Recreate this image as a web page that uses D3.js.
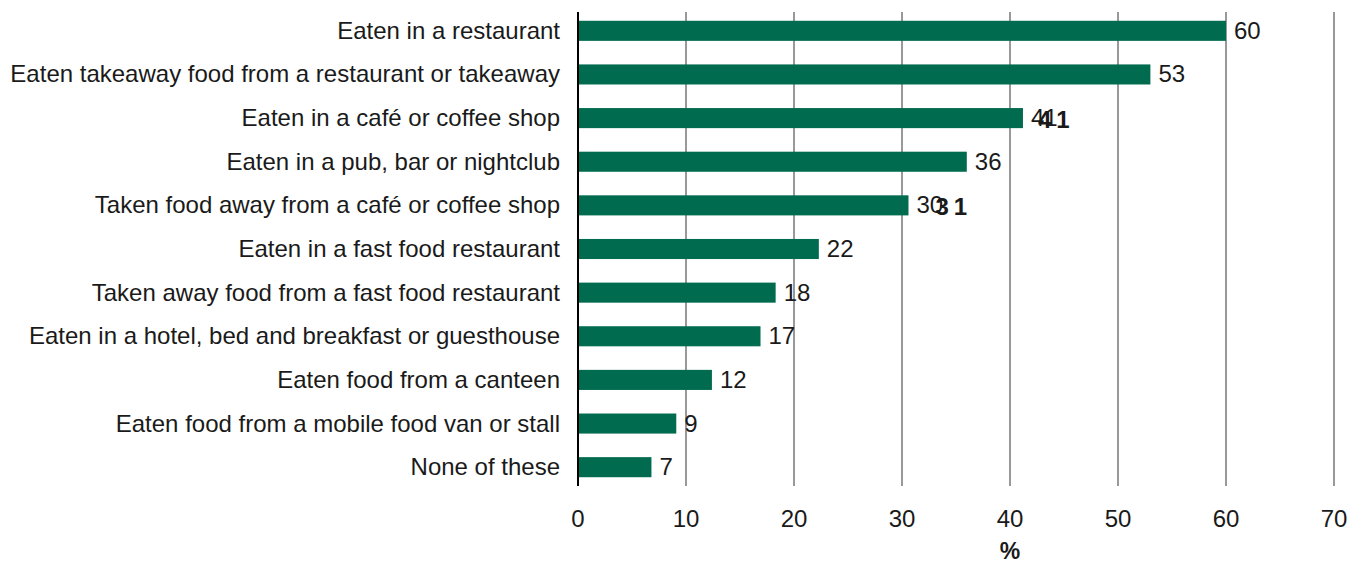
<!DOCTYPE html>
<html>
<head>
<meta charset="utf-8">
<script src="https://cdn.jsdelivr.net/npm/d3@7"></script>
<style>
  body { margin: 0; background: #fff; }
  text { font-family: "Liberation Sans", Arial, sans-serif; fill: #1a1a1a; }
</style>
</head>
<body>
<div class="canvas"></div>
<script>

var categories = [
  "Eaten in a restaurant",
  "Eaten takeaway food from a restaurant or takeaway",
  "Eaten in a café or coffee shop",
  "Eaten in a pub, bar or nightclub",
  "Taken food away from a café or coffee shop",
  "Eaten in a fast food restaurant",
  "Taken away food from a fast food restaurant",
  "Eaten in a hotel, bed and breakfast or guesthouse",
  "Eaten food from a canteen",
  "Eaten food from a mobile food van or stall",
  "None of these"
];

var values = [60, 53, 41.2, 36, 30.6, 22.3, 18.3, 16.9, 12.4, 9.1, 6.8];
var valueLabels = ["60", "53", "41", "36", "30", "22", "18", "17", "12", "9", "7"];

// stray duplicate labels sitting over two of the bars
var extraRows = ["Eaten in a café or coffee shop", "Taken food away from a café or coffee shop"];
var extraValues = [41.2, 30.6];
var extraTexts = ["41", "31"];

var ticks = [0, 10, 20, 30, 40, 50, 60, 70];

var svg = d3.select(".canvas")
            .append("svg")
            .attr("width", 1367)
            .attr("height", 565);

var x = d3.scaleLinear()
          .domain([0, 70])
          .range([578, 1334]);

var y = d3.scaleBand()
          .domain(categories)
          .range([9, 489])
          .paddingInner(0.54)
          .paddingOuter(0.27);

// gridlines
svg.selectAll(".grid")
   .data(ticks.slice(1))
   .enter()
   .append("line")
   .attr("x1", d => x(d))
   .attr("x2", d => x(d))
   .attr("y1", 12)
   .attr("y2", 486)
   .attr("stroke", "#555")
   .attr("stroke-width", 1.2);

// tick labels
svg.selectAll(".tick")
   .data(ticks)
   .enter()
   .append("text")
   .attr("x", d => x(d))
   .attr("y", 527)
   .attr("text-anchor", "middle")
   .style("font-size", "24px")
   .text(d => d);

svg.append("text")
   .attr("x", x(40))
   .attr("y", 559)
   .attr("text-anchor", "middle")
   .style("font-size", "23px")
   .style("font-weight", "bold")
   .text("%");

// bars
svg.selectAll(".bar")
   .data(values)
   .enter()
   .append("rect")
   .attr("x", x(0))
   .attr("y", (d, i) => y(categories[i]))
   .attr("width", d => x(d) - x(0))
   .attr("height", y.bandwidth())
   .attr("fill", "#006b4f");

// category labels
svg.selectAll(".cat")
   .data(categories)
   .enter()
   .append("text")
   .attr("x", 560)
   .attr("y", d => y(d) + y.bandwidth() / 2 + 8)
   .attr("text-anchor", "end")
   .style("font-size", "24px")
   .text(d => d);

// value labels
svg.selectAll(".val")
   .data(values)
   .enter()
   .append("text")
   .attr("x", d => x(d) + 8)
   .attr("y", (d, i) => y(categories[i]) + y.bandwidth() / 2 + 8)
   .style("font-size", "24px")
   .text((d, i) => valueLabels[i]);

var extraShift = [15, 27];

svg.selectAll(".extra")
   .data(extraValues)
   .enter()
   .append("text")
   .attr("x", (d, i) => x(d) + extraShift[i])
   .attr("y", (d, i) => y(extraRows[i]) + y.bandwidth() / 2 + 10)
   .style("font-size", "24px")
   .style("font-weight", "bold")
   .style("letter-spacing", "5px")
   .text((d, i) => extraTexts[i]);

// zero axis
svg.append("line")
   .attr("x1", x(0))
   .attr("x2", x(0))
   .attr("y1", 12)
   .attr("y2", 486)
   .attr("stroke", "#000")
   .attr("stroke-width", 2);

</script>
</body>
</html>
